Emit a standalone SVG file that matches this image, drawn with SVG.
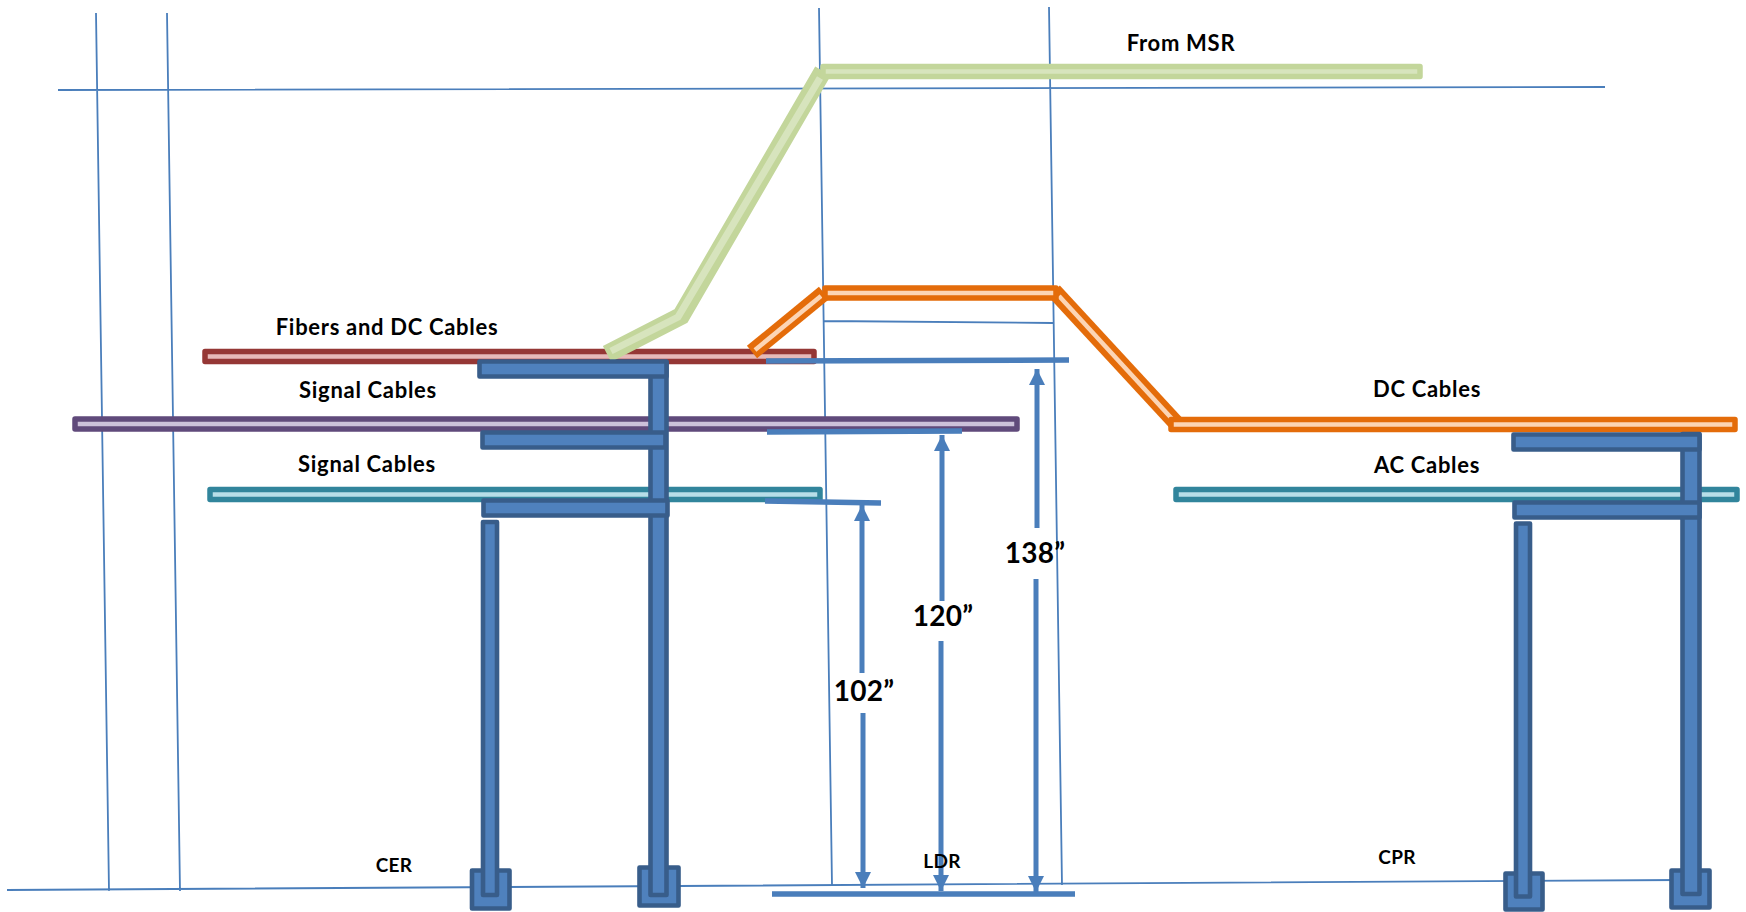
<svg xmlns="http://www.w3.org/2000/svg" width="1746" height="912" viewBox="0 0 1746 912">
<style>
text{font-family:"Lato","Open Sans","Liberation Sans",sans-serif;font-weight:700;fill:#000;text-anchor:middle;font-size:22px;letter-spacing:.7px}
.dim{font-size:28px;letter-spacing:.3px}
.small{font-size:19px;letter-spacing:.3px}
.thin{stroke:#4a7ebb;stroke-width:1.8;fill:none}
.bar{stroke:#4a7ebb;stroke-width:5.5;fill:none}
.arr{stroke:#4a7ebb;stroke-width:5;fill:none}
.steel{fill:#4f81bd;stroke:#385d8a;stroke-width:4.6;stroke-linejoin:round}
.cable{stroke-width:5.5;stroke-linejoin:round}
.red{fill:#e6b9b8;stroke:#953735}
.pur{fill:#ccc1da;stroke:#604a7b}
.teal{fill:#b7dee8;stroke:#31859c}
.org{fill:#fcd5b5;stroke:#e46c0a}
.grn{fill:#d7e4bd;stroke:#c3d69b}
.diag{fill:none}
</style>
<defs>
<marker id="head" markerUnits="userSpaceOnUse" markerWidth="18" markerHeight="18" refX="16" refY="8" orient="auto"><path d="M0 0L16 8L0 16Z" fill="#4a7ebb"/></marker>
</defs>
<g id="grid-lines">
<path class="thin" d="M96 13L109 891M167 13L180 891M819 8L832 885M1049 7L1062 885M58 90L1605 87M7 890L1680 880M824 321L1053 323"/>
</g>
<g id="cables">
<g id="fibers-cable"><rect class="cable red" x="205" y="351.500" width="609" height="10"/></g>
<g id="signal-cable-1"><rect class="cable pur" x="75" y="419" width="942" height="10"/></g>
<g id="signal-cable-2"><rect class="cable teal" x="210" y="489.500" width="610" height="10"/></g>
<g id="ac-cable"><rect class="cable teal" x="1176" y="489.500" width="561" height="10"/></g>
<g id="dc-cable">
<path class="org diag" d="M752 352L824 293" stroke-width="16"/>
<path class="diag" d="M755 350L821 296" stroke="#fcd5b5" stroke-width="4.500"/>
<path class="org diag" d="M1054 291L1176 423" stroke-width="16"/>
<path class="diag" d="M1059 296L1174 421" stroke="#fcd5b5" stroke-width="4.500"/>
<rect class="cable org" x="825" y="288" width="231" height="10"/>
<rect class="cable org" x="1171" y="419.500" width="564" height="10"/>
</g>
<g id="msr-cable">
<path class="grn diag" d="M607 354L681 316L823 71" stroke-width="18" stroke-linejoin="miter"/>
<path class="diag" d="M611 351L678 317L820 78" stroke="#d7e4bd" stroke-width="7"/>
<rect class="cable grn" x="823" y="66.500" width="597" height="10"/>
</g>
</g>
<g id="foot-cer-1"><rect class="steel" x="472" y="870.500" width="37.500" height="38"/></g>
<g id="foot-cer-2"><rect class="steel" x="639.500" y="867.500" width="39" height="38"/></g>
<g id="foot-cpr-1"><rect class="steel" x="1505.500" y="873.500" width="37" height="36"/></g>
<g id="foot-cpr-2"><rect class="steel" x="1671.500" y="870.500" width="38" height="37"/></g>
<g id="support-left">
<rect class="steel" x="650.500" y="362" width="16" height="533"/>
<rect class="steel" x="483" y="522" width="14" height="373"/>
<rect class="steel" x="479.500" y="361.500" width="187" height="15"/>
<rect class="steel" x="482.500" y="432.500" width="183" height="15"/>
<rect class="steel" x="483.500" y="500.500" width="184" height="15"/>
</g>
<g id="support-right">
<rect class="steel" x="1682.500" y="434" width="17" height="460"/>
<rect class="steel" x="1516" y="523.500" width="14" height="373"/>
<rect class="steel" x="1513.500" y="434.500" width="186" height="15"/>
<rect class="steel" x="1514.500" y="502.500" width="185" height="15"/>
</g>
<g id="dimensions">
<path class="bar" d="M766 361L1069 360M767 432L962 431M765 501L881 503M772 894L1075 894"/>
<path class="arr" d="M862 673L862 505" marker-end="url(#head)"/>
<path class="arr" d="M863 713L863 888" marker-end="url(#head)"/>
<path class="arr" d="M942 601L942 435" marker-end="url(#head)"/>
<path class="arr" d="M941 641L941 891" marker-end="url(#head)"/>
<path class="arr" d="M1037 528L1037 369" marker-end="url(#head)"/>
<path class="arr" d="M1036 579L1036 892" marker-end="url(#head)"/>
</g>
<g id="labels">
<text x="387" y="335">Fibers and DC Cables</text>
<text x="1181" y="51">From MSR</text>
<text x="368" y="398">Signal Cables</text>
<text x="367" y="472">Signal Cables</text>
<text x="1427" y="397">DC Cables</text>
<text x="1427" y="473">AC Cables</text>
<text class="small" x="394" y="872">CER</text>
<text class="small" x="942" y="868">LDR</text>
<text class="small" x="1397" y="864">CPR</text>
<text class="dim" x="864" y="701">102”</text>
<text class="dim" x="943" y="626">120”</text>
<text class="dim" x="1035" y="563">138”</text>
</g>
</svg>
